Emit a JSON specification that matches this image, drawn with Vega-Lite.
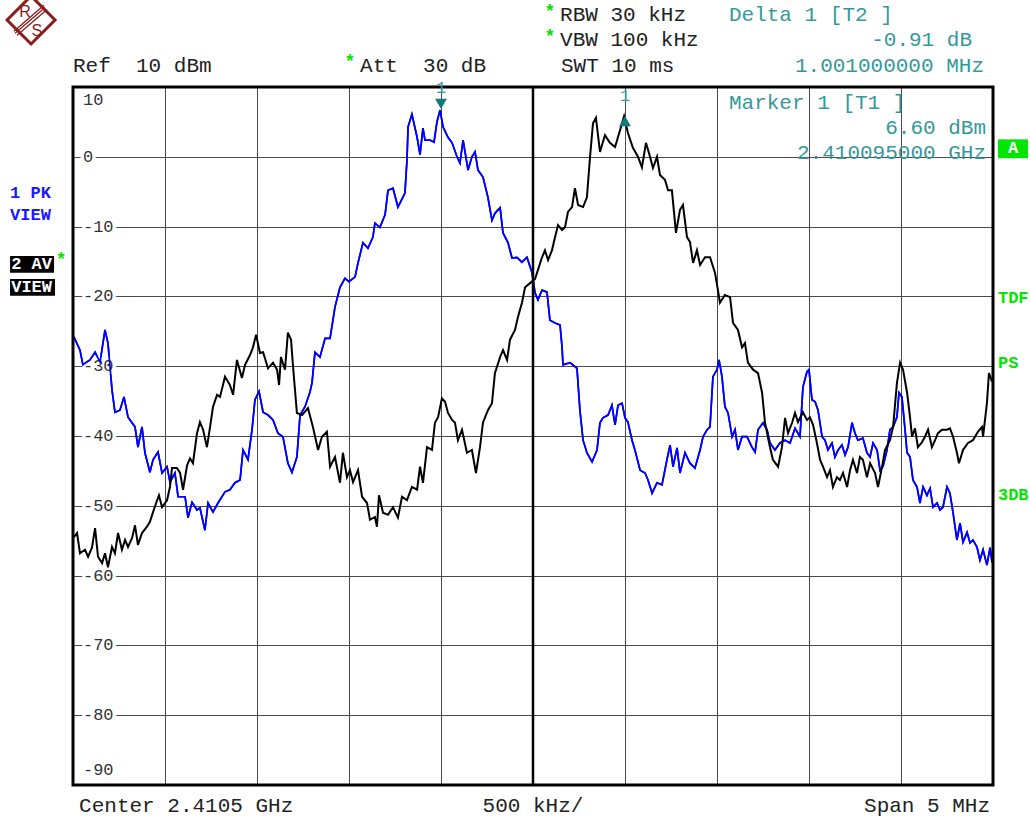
{
  "$schema": "https://vega.github.io/schema/vega-lite/v6.json",
  "width": 920,
  "height": 698,
  "autosize": "none",
  "padding": {"left": 73, "top": 87, "right": 37, "bottom": 33},
  "background": "white",
  "config": {
    "view": {"stroke": null},
    "font": "Liberation Mono",
    "axis": {"grid": true, "gridColor": "#4a4a4a", "gridWidth": 1, "gridOpacity": 1, "labels": false, "ticks": false, "domain": false}
  },
  "datasets": {
    "pk": [
      {"f":2408.005,"dBm":-25.8},{"f":2408.038,"dBm":-27.7},{"f":2408.054,"dBm":-29.8},{"f":2408.092,"dBm":-29.1},{"f":2408.120,"dBm":-28.0},{"f":2408.147,"dBm":-29.4},{"f":2408.174,"dBm":-24.8},{"f":2408.190,"dBm":-26.7},{"f":2408.212,"dBm":-33.4},{"f":2408.228,"dBm":-36.6},{"f":2408.255,"dBm":-36.3},{"f":2408.277,"dBm":-34.4},{"f":2408.299,"dBm":-37.3},{"f":2408.337,"dBm":-38.7},{"f":2408.353,"dBm":-41.6},{"f":2408.375,"dBm":-38.7},{"f":2408.391,"dBm":-42.4},{"f":2408.418,"dBm":-45.2},{"f":2408.435,"dBm":-43.4},{"f":2408.462,"dBm":-42.3},{"f":2408.484,"dBm":-45.3},{"f":2408.511,"dBm":-44.4},{"f":2408.527,"dBm":-46.6},{"f":2408.554,"dBm":-45.3},{"f":2408.571,"dBm":-48.7},{"f":2408.609,"dBm":-48.7},{"f":2408.625,"dBm":-51.7},{"f":2408.647,"dBm":-49.5},{"f":2408.674,"dBm":-50.6},{"f":2408.690,"dBm":-50.3},{"f":2408.717,"dBm":-53.5},{"f":2408.734,"dBm":-49.6},{"f":2408.761,"dBm":-50.9},{"f":2408.788,"dBm":-49.6},{"f":2408.826,"dBm":-48.0},{"f":2408.853,"dBm":-47.7},{"f":2408.880,"dBm":-46.7},{"f":2408.908,"dBm":-46.3},{"f":2408.924,"dBm":-42.0},{"f":2408.951,"dBm":-43.4},{"f":2408.973,"dBm":-39.1},{"f":2408.989,"dBm":-34.8},{"f":2409.011,"dBm":-33.6},{"f":2409.033,"dBm":-36.6},{"f":2409.060,"dBm":-37.0},{"f":2409.087,"dBm":-37.7},{"f":2409.114,"dBm":-39.6},{"f":2409.141,"dBm":-40.1},{"f":2409.168,"dBm":-43.9},{"f":2409.190,"dBm":-45.2},{"f":2409.217,"dBm":-43.0},{"f":2409.234,"dBm":-37.0},{"f":2409.261,"dBm":-35.8},{"f":2409.288,"dBm":-33.7},{"f":2409.299,"dBm":-32.4},{"f":2409.315,"dBm":-28.0},{"f":2409.342,"dBm":-28.7},{"f":2409.370,"dBm":-26.0},{"f":2409.397,"dBm":-26.0},{"f":2409.424,"dBm":-21.5},{"f":2409.451,"dBm":-18.7},{"f":2409.478,"dBm":-17.4},{"f":2409.500,"dBm":-17.9},{"f":2409.533,"dBm":-17.2},{"f":2409.549,"dBm":-15.2},{"f":2409.576,"dBm":-12.3},{"f":2409.603,"dBm":-13.1},{"f":2409.630,"dBm":-11.5},{"f":2409.641,"dBm":-9.5},{"f":2409.668,"dBm":-10.1},{"f":2409.696,"dBm":-8.3},{"f":2409.712,"dBm":-4.8},{"f":2409.739,"dBm":-4.5},{"f":2409.766,"dBm":-7.2},{"f":2409.804,"dBm":-5.2},{"f":2409.815,"dBm":-0.5},{"f":2409.821,"dBm":4.3},{"f":2409.842,"dBm":6.1},{"f":2409.870,"dBm":2.8},{"f":2409.886,"dBm":0.3},{"f":2409.902,"dBm":4.1},{"f":2409.913,"dBm":2.4},{"f":2409.940,"dBm":2.4},{"f":2409.962,"dBm":2.1},{"f":2409.978,"dBm":5.0},{"f":2409.995,"dBm":6.7},{"f":2410.011,"dBm":4.3},{"f":2410.038,"dBm":2.8},{"f":2410.060,"dBm":2.0},{"f":2410.087,"dBm":0.0},{"f":2410.103,"dBm":-0.9},{"f":2410.120,"dBm":2.4},{"f":2410.147,"dBm":-1.9},{"f":2410.168,"dBm":0.0},{"f":2410.185,"dBm":0.7},{"f":2410.201,"dBm":-1.9},{"f":2410.228,"dBm":-2.9},{"f":2410.255,"dBm":-5.8},{"f":2410.277,"dBm":-9.1},{"f":2410.293,"dBm":-8.1},{"f":2410.321,"dBm":-7.3},{"f":2410.337,"dBm":-10.9},{"f":2410.364,"dBm":-12.3},{"f":2410.386,"dBm":-14.5},{"f":2410.413,"dBm":-14.4},{"f":2410.440,"dBm":-15.1},{"f":2410.467,"dBm":-14.4},{"f":2410.495,"dBm":-16.6},{"f":2410.511,"dBm":-19.5},{"f":2410.527,"dBm":-20.5},{"f":2410.549,"dBm":-19.1},{"f":2410.576,"dBm":-19.4},{"f":2410.592,"dBm":-23.4},{"f":2410.620,"dBm":-23.8},{"f":2410.647,"dBm":-24.1},{"f":2410.658,"dBm":-27.3},{"f":2410.663,"dBm":-29.8},{"f":2410.701,"dBm":-29.5},{"f":2410.739,"dBm":-30.3},{"f":2410.755,"dBm":-36.3},{"f":2410.772,"dBm":-40.6},{"f":2410.793,"dBm":-42.4},{"f":2410.821,"dBm":-43.7},{"f":2410.848,"dBm":-42.0},{"f":2410.864,"dBm":-38.1},{"f":2410.880,"dBm":-37.4},{"f":2410.908,"dBm":-37.0},{"f":2410.929,"dBm":-35.6},{"f":2410.946,"dBm":-38.4},{"f":2410.962,"dBm":-35.6},{"f":2410.984,"dBm":-35.3},{"f":2411.000,"dBm":-37.4},{"f":2411.016,"dBm":-38.0},{"f":2411.038,"dBm":-40.6},{"f":2411.054,"dBm":-42.0},{"f":2411.082,"dBm":-44.9},{"f":2411.109,"dBm":-45.3},{"f":2411.125,"dBm":-46.3},{"f":2411.147,"dBm":-48.2},{"f":2411.174,"dBm":-46.7},{"f":2411.201,"dBm":-47.0},{"f":2411.228,"dBm":-43.4},{"f":2411.245,"dBm":-41.3},{"f":2411.261,"dBm":-44.4},{"f":2411.283,"dBm":-41.7},{"f":2411.299,"dBm":-45.3},{"f":2411.326,"dBm":-42.4},{"f":2411.353,"dBm":-43.9},{"f":2411.380,"dBm":-44.6},{"f":2411.408,"dBm":-42.0},{"f":2411.424,"dBm":-40.1},{"f":2411.446,"dBm":-39.1},{"f":2411.462,"dBm":-38.7},{"f":2411.478,"dBm":-31.5},{"f":2411.500,"dBm":-30.5},{"f":2411.511,"dBm":-29.1},{"f":2411.527,"dBm":-31.5},{"f":2411.543,"dBm":-35.8},{"f":2411.560,"dBm":-36.7},{"f":2411.582,"dBm":-40.1},{"f":2411.598,"dBm":-39.1},{"f":2411.614,"dBm":-42.0},{"f":2411.636,"dBm":-40.1},{"f":2411.663,"dBm":-40.1},{"f":2411.690,"dBm":-41.6},{"f":2411.707,"dBm":-42.3},{"f":2411.723,"dBm":-39.1},{"f":2411.750,"dBm":-38.1},{"f":2411.772,"dBm":-39.1},{"f":2411.788,"dBm":-41.0},{"f":2411.815,"dBm":-42.0},{"f":2411.842,"dBm":-41.0},{"f":2411.870,"dBm":-40.6},{"f":2411.897,"dBm":-41.0},{"f":2411.924,"dBm":-38.9},{"f":2411.951,"dBm":-40.1},{"f":2411.967,"dBm":-33.0},{"f":2411.989,"dBm":-30.8},{"f":2412.000,"dBm":-30.5},{"f":2412.016,"dBm":-34.8},{"f":2412.033,"dBm":-35.1},{"f":2412.049,"dBm":-36.3},{"f":2412.071,"dBm":-40.1},{"f":2412.087,"dBm":-40.6},{"f":2412.103,"dBm":-42.0},{"f":2412.125,"dBm":-41.0},{"f":2412.141,"dBm":-43.0},{"f":2412.158,"dBm":-42.0},{"f":2412.179,"dBm":-41.3},{"f":2412.196,"dBm":-42.7},{"f":2412.212,"dBm":-41.6},{"f":2412.234,"dBm":-38.1},{"f":2412.250,"dBm":-39.6},{"f":2412.266,"dBm":-40.6},{"f":2412.293,"dBm":-40.3},{"f":2412.315,"dBm":-42.4},{"f":2412.332,"dBm":-43.0},{"f":2412.348,"dBm":-41.0},{"f":2412.370,"dBm":-42.0},{"f":2412.386,"dBm":-44.9},{"f":2412.402,"dBm":-44.4},{"f":2412.424,"dBm":-42.0},{"f":2412.440,"dBm":-39.1},{"f":2412.457,"dBm":-38.7},{"f":2412.478,"dBm":-37.3},{"f":2412.489,"dBm":-33.8},{"f":2412.505,"dBm":-34.4},{"f":2412.522,"dBm":-39.1},{"f":2412.533,"dBm":-42.4},{"f":2412.549,"dBm":-43.0},{"f":2412.565,"dBm":-46.3},{"f":2412.587,"dBm":-47.3},{"f":2412.603,"dBm":-49.6},{"f":2412.620,"dBm":-47.3},{"f":2412.641,"dBm":-48.5},{"f":2412.658,"dBm":-47.5},{"f":2412.674,"dBm":-50.2},{"f":2412.696,"dBm":-49.6},{"f":2412.712,"dBm":-50.6},{"f":2412.728,"dBm":-50.2},{"f":2412.750,"dBm":-47.3},{"f":2412.766,"dBm":-48.2},{"f":2412.783,"dBm":-51.0},{"f":2412.804,"dBm":-54.9},{"f":2412.821,"dBm":-52.5},{"f":2412.837,"dBm":-55.2},{"f":2412.859,"dBm":-53.8},{"f":2412.875,"dBm":-55.3},{"f":2412.891,"dBm":-54.9},{"f":2412.913,"dBm":-55.9},{"f":2412.929,"dBm":-57.8},{"f":2412.946,"dBm":-56.3},{"f":2412.967,"dBm":-58.5},{"f":2412.984,"dBm":-56.0},{"f":2412.995,"dBm":-58.1}
    ],
    "av": [
      {"f":2408.005,"dBm":-54.5},{"f":2408.022,"dBm":-53.9},{"f":2408.038,"dBm":-56.8},{"f":2408.065,"dBm":-56.3},{"f":2408.082,"dBm":-57.3},{"f":2408.103,"dBm":-56.0},{"f":2408.120,"dBm":-53.2},{"f":2408.136,"dBm":-57.3},{"f":2408.158,"dBm":-58.2},{"f":2408.174,"dBm":-56.8},{"f":2408.190,"dBm":-58.8},{"f":2408.212,"dBm":-55.9},{"f":2408.228,"dBm":-56.8},{"f":2408.245,"dBm":-53.9},{"f":2408.266,"dBm":-56.3},{"f":2408.283,"dBm":-54.9},{"f":2408.299,"dBm":-55.9},{"f":2408.321,"dBm":-54.6},{"f":2408.337,"dBm":-52.8},{"f":2408.353,"dBm":-55.6},{"f":2408.375,"dBm":-53.9},{"f":2408.402,"dBm":-53.0},{"f":2408.418,"dBm":-52.3},{"f":2408.435,"dBm":-50.9},{"f":2408.457,"dBm":-49.2},{"f":2408.467,"dBm":-48.5},{"f":2408.484,"dBm":-50.2},{"f":2408.511,"dBm":-49.2},{"f":2408.527,"dBm":-47.3},{"f":2408.538,"dBm":-44.6},{"f":2408.565,"dBm":-44.6},{"f":2408.582,"dBm":-45.3},{"f":2408.598,"dBm":-47.7},{"f":2408.620,"dBm":-44.2},{"f":2408.636,"dBm":-43.2},{"f":2408.652,"dBm":-43.9},{"f":2408.674,"dBm":-39.6},{"f":2408.690,"dBm":-38.0},{"f":2408.707,"dBm":-39.1},{"f":2408.728,"dBm":-41.6},{"f":2408.745,"dBm":-38.7},{"f":2408.761,"dBm":-35.8},{"f":2408.783,"dBm":-34.1},{"f":2408.799,"dBm":-34.4},{"f":2408.826,"dBm":-31.5},{"f":2408.853,"dBm":-32.7},{"f":2408.870,"dBm":-34.1},{"f":2408.891,"dBm":-29.1},{"f":2408.918,"dBm":-31.7},{"f":2408.935,"dBm":-29.8},{"f":2408.962,"dBm":-28.4},{"f":2408.978,"dBm":-27.3},{"f":2408.995,"dBm":-25.5},{"f":2409.016,"dBm":-28.1},{"f":2409.033,"dBm":-28.0},{"f":2409.060,"dBm":-30.3},{"f":2409.087,"dBm":-29.5},{"f":2409.109,"dBm":-30.5},{"f":2409.120,"dBm":-32.7},{"f":2409.130,"dBm":-28.7},{"f":2409.152,"dBm":-30.5},{"f":2409.168,"dBm":-25.2},{"f":2409.185,"dBm":-26.2},{"f":2409.196,"dBm":-30.1},{"f":2409.217,"dBm":-36.7},{"f":2409.245,"dBm":-37.0},{"f":2409.277,"dBm":-36.0},{"f":2409.304,"dBm":-38.7},{"f":2409.332,"dBm":-42.0},{"f":2409.353,"dBm":-40.1},{"f":2409.380,"dBm":-39.4},{"f":2409.397,"dBm":-44.4},{"f":2409.424,"dBm":-43.0},{"f":2409.451,"dBm":-46.7},{"f":2409.467,"dBm":-42.4},{"f":2409.489,"dBm":-45.9},{"f":2409.505,"dBm":-44.9},{"f":2409.522,"dBm":-46.6},{"f":2409.549,"dBm":-44.9},{"f":2409.571,"dBm":-48.7},{"f":2409.598,"dBm":-49.6},{"f":2409.614,"dBm":-52.0},{"f":2409.641,"dBm":-51.6},{"f":2409.652,"dBm":-53.0},{"f":2409.663,"dBm":-48.5},{"f":2409.685,"dBm":-51.0},{"f":2409.712,"dBm":-51.3},{"f":2409.739,"dBm":-50.2},{"f":2409.766,"dBm":-51.7},{"f":2409.788,"dBm":-48.7},{"f":2409.815,"dBm":-49.2},{"f":2409.842,"dBm":-47.3},{"f":2409.870,"dBm":-47.7},{"f":2409.886,"dBm":-44.4},{"f":2409.902,"dBm":-46.7},{"f":2409.924,"dBm":-41.6},{"f":2409.951,"dBm":-42.0},{"f":2409.967,"dBm":-38.1},{"f":2409.984,"dBm":-37.3},{"f":2410.005,"dBm":-34.6},{"f":2410.022,"dBm":-35.1},{"f":2410.038,"dBm":-36.7},{"f":2410.060,"dBm":-37.7},{"f":2410.076,"dBm":-38.1},{"f":2410.092,"dBm":-40.6},{"f":2410.114,"dBm":-39.1},{"f":2410.141,"dBm":-42.4},{"f":2410.168,"dBm":-42.0},{"f":2410.190,"dBm":-45.3},{"f":2410.212,"dBm":-41.6},{"f":2410.228,"dBm":-38.1},{"f":2410.255,"dBm":-36.3},{"f":2410.277,"dBm":-35.3},{"f":2410.293,"dBm":-31.0},{"f":2410.321,"dBm":-28.7},{"f":2410.337,"dBm":-27.7},{"f":2410.359,"dBm":-29.1},{"f":2410.375,"dBm":-26.2},{"f":2410.402,"dBm":-24.8},{"f":2410.418,"dBm":-23.0},{"f":2410.440,"dBm":-20.9},{"f":2410.457,"dBm":-18.7},{"f":2410.484,"dBm":-18.1},{"f":2410.511,"dBm":-17.5},{"f":2410.527,"dBm":-16.2},{"f":2410.549,"dBm":-14.4},{"f":2410.565,"dBm":-13.4},{"f":2410.582,"dBm":-14.8},{"f":2410.603,"dBm":-13.4},{"f":2410.620,"dBm":-11.5},{"f":2410.636,"dBm":-9.8},{"f":2410.658,"dBm":-10.5},{"f":2410.674,"dBm":-10.1},{"f":2410.690,"dBm":-7.9},{"f":2410.712,"dBm":-7.2},{"f":2410.728,"dBm":-4.5},{"f":2410.745,"dBm":-6.9},{"f":2410.772,"dBm":-7.2},{"f":2410.793,"dBm":-5.8},{"f":2410.810,"dBm":0.0},{"f":2410.826,"dBm":4.8},{"f":2410.842,"dBm":5.6},{"f":2410.864,"dBm":0.7},{"f":2410.891,"dBm":3.1},{"f":2410.918,"dBm":2.0},{"f":2410.946,"dBm":1.4},{"f":2410.973,"dBm":3.8},{"f":2410.995,"dBm":5.8},{"f":2411.016,"dBm":3.4},{"f":2411.043,"dBm":1.3},{"f":2411.071,"dBm":0.0},{"f":2411.092,"dBm":-1.5},{"f":2411.114,"dBm":2.0},{"f":2411.136,"dBm":0.0},{"f":2411.152,"dBm":-1.6},{"f":2411.174,"dBm":0.0},{"f":2411.190,"dBm":-2.6},{"f":2411.217,"dBm":-3.3},{"f":2411.234,"dBm":-4.8},{"f":2411.255,"dBm":-4.8},{"f":2411.277,"dBm":-10.9},{"f":2411.299,"dBm":-7.6},{"f":2411.315,"dBm":-6.9},{"f":2411.337,"dBm":-11.5},{"f":2411.353,"dBm":-12.2},{"f":2411.370,"dBm":-15.2},{"f":2411.391,"dBm":-13.4},{"f":2411.408,"dBm":-15.5},{"f":2411.435,"dBm":-14.4},{"f":2411.462,"dBm":-14.4},{"f":2411.489,"dBm":-16.6},{"f":2411.505,"dBm":-19.1},{"f":2411.516,"dBm":-20.9},{"f":2411.543,"dBm":-19.8},{"f":2411.571,"dBm":-20.1},{"f":2411.587,"dBm":-23.8},{"f":2411.614,"dBm":-24.8},{"f":2411.636,"dBm":-27.3},{"f":2411.652,"dBm":-26.7},{"f":2411.668,"dBm":-29.5},{"f":2411.696,"dBm":-30.5},{"f":2411.723,"dBm":-31.0},{"f":2411.745,"dBm":-33.8},{"f":2411.761,"dBm":-38.1},{"f":2411.788,"dBm":-41.6},{"f":2411.804,"dBm":-43.4},{"f":2411.832,"dBm":-44.4},{"f":2411.853,"dBm":-41.6},{"f":2411.870,"dBm":-37.4},{"f":2411.886,"dBm":-39.6},{"f":2411.908,"dBm":-38.1},{"f":2411.924,"dBm":-36.7},{"f":2411.940,"dBm":-38.0},{"f":2411.967,"dBm":-36.6},{"f":2411.989,"dBm":-37.7},{"f":2412.005,"dBm":-37.3},{"f":2412.022,"dBm":-38.4},{"f":2412.043,"dBm":-41.0},{"f":2412.060,"dBm":-43.4},{"f":2412.076,"dBm":-44.4},{"f":2412.098,"dBm":-45.9},{"f":2412.114,"dBm":-44.9},{"f":2412.130,"dBm":-47.3},{"f":2412.152,"dBm":-45.9},{"f":2412.168,"dBm":-46.3},{"f":2412.185,"dBm":-45.3},{"f":2412.207,"dBm":-47.3},{"f":2412.223,"dBm":-44.9},{"f":2412.239,"dBm":-43.4},{"f":2412.261,"dBm":-45.3},{"f":2412.277,"dBm":-43.0},{"f":2412.293,"dBm":-43.4},{"f":2412.315,"dBm":-45.9},{"f":2412.332,"dBm":-43.9},{"f":2412.359,"dBm":-45.3},{"f":2412.375,"dBm":-47.3},{"f":2412.397,"dBm":-44.4},{"f":2412.413,"dBm":-42.0},{"f":2412.440,"dBm":-40.6},{"f":2412.457,"dBm":-38.7},{"f":2412.478,"dBm":-32.4},{"f":2412.495,"dBm":-29.5},{"f":2412.511,"dBm":-30.5},{"f":2412.533,"dBm":-33.8},{"f":2412.549,"dBm":-37.3},{"f":2412.560,"dBm":-40.1},{"f":2412.576,"dBm":-38.9},{"f":2412.592,"dBm":-41.6},{"f":2412.614,"dBm":-40.9},{"f":2412.630,"dBm":-40.1},{"f":2412.647,"dBm":-39.1},{"f":2412.668,"dBm":-41.6},{"f":2412.685,"dBm":-40.6},{"f":2412.701,"dBm":-39.6},{"f":2412.723,"dBm":-39.1},{"f":2412.750,"dBm":-39.1},{"f":2412.766,"dBm":-38.9},{"f":2412.783,"dBm":-40.1},{"f":2412.804,"dBm":-42.4},{"f":2412.815,"dBm":-43.9},{"f":2412.837,"dBm":-42.0},{"f":2412.864,"dBm":-41.0},{"f":2412.891,"dBm":-40.6},{"f":2412.918,"dBm":-39.4},{"f":2412.940,"dBm":-38.7},{"f":2412.946,"dBm":-40.1},{"f":2412.967,"dBm":-35.3},{"f":2412.978,"dBm":-31.0},{"f":2412.995,"dBm":-32.2}
    ],
    "ylab": [
      {"v": 0, "label": "0"}, {"v": -10, "label": "-10"}, {"v": -20, "label": "-20"}, {"v": -30, "label": "-30"}, {"v": -40, "label": "-40"},
      {"v": -50, "label": "-50"}, {"v": -60, "label": "-60"}, {"v": -70, "label": "-70"}, {"v": -80, "label": "-80"}
    ]
  },
  "layer": [
    {
      "data": {"name": "pk"},
      "mark": {"type": "line", "color": "#0000ff", "strokeWidth": 1.7},
      "encoding": {
        "x": {"field": "f", "type": "quantitative", "scale": {"domain": [2408, 2413], "nice": false, "zero": false},
              "axis": {"title": null, "values": [2408.5, 2409, 2409.5, 2410, 2410.5, 2411, 2411.5, 2412, 2412.5]}},
        "y": {"field": "dBm", "type": "quantitative", "scale": {"domain": [-90, 10], "nice": false, "zero": false},
              "axis": {"title": null, "values": [0, -10, -20, -30, -40, -50, -60, -70, -80]}}
      }
    },
    {
      "data": {"name": "ylab"},
      "mark": {"type": "text", "align": "left", "baseline": "middle", "font": "Liberation Mono", "fontSize": 17, "fill": "white", "stroke": "white", "strokeWidth": 7},
      "encoding": {"x": {"datum": 2408.054}, "y": {"field": "v", "type": "quantitative"}, "text": {"field": "label"}}
    },
    {
      "data": {"name": "ylab"},
      "mark": {"type": "text", "align": "left", "baseline": "middle", "font": "Liberation Mono", "fontSize": 17, "color": "#333333"},
      "encoding": {"x": {"datum": 2408.054}, "y": {"field": "v", "type": "quantitative"}, "text": {"field": "label"}}
    },
    {
      "data": {"values": [{}]},
      "mark": {"type": "text", "align": "left", "baseline": "middle", "font": "Liberation Mono", "fontSize": 17, "color": "#333333"},
      "encoding": {"x": {"datum": 2408.054}, "y": {"datum": 8.1}, "text": {"value": "10"}}
    },
    {
      "data": {"values": [{}]},
      "mark": {"type": "text", "align": "left", "baseline": "middle", "font": "Liberation Mono", "fontSize": 17, "color": "#333333"},
      "encoding": {"x": {"datum": 2408.054}, "y": {"datum": -87.9}, "text": {"value": "-90"}}
    },
    {
      "data": {"name": "pk"},
      "mark": {"type": "line", "color": "#0000ff", "strokeWidth": 1.7},
      "encoding": {
        "x": {"field": "f", "type": "quantitative", "axis": {"title": null}},
        "y": {"field": "dBm", "type": "quantitative", "axis": {"title": null}}
      }
    },
    {
      "data": {"values": [{}]},
      "mark": {"type": "rule", "color": "black", "strokeWidth": 2.5},
      "encoding": {"x": {"datum": 2410.5}}
    },
    {
      "data": {"name": "av"},
      "mark": {"type": "line", "color": "#000000", "strokeWidth": 2},
      "encoding": {
        "x": {"field": "f", "type": "quantitative", "axis": {"title": null}},
        "y": {"field": "dBm", "type": "quantitative", "axis": {"title": null}}
      }
    },
    {
      "data": {"values": [{}]},
      "mark": {"type": "rect", "fillOpacity": 0, "stroke": "black", "strokeWidth": 3},
      "encoding": {"x": {"datum": 2408}, "x2": {"datum": 2413}, "y": {"datum": -90}, "y2": {"datum": 10}}
    },
    {
      "data": {"values": [{}]},
      "mark": {"type": "point", "shape": "triangle-down", "filled": true, "size": 140, "color": "#117a7a", "opacity": 1},
      "encoding": {"x": {"datum": 2410.0}, "y": {"datum": 7.6}}
    },
    {
      "data": {"values": [{}]},
      "mark": {"type": "point", "shape": "triangle-up", "filled": true, "size": 140, "color": "#117a7a", "opacity": 1},
      "encoding": {"x": {"datum": 2411.0}, "y": {"datum": 5.1}}
    },
    {
      "data": {"values": [{}]},
      "mark": {"type": "text", "align": "center", "baseline": "middle", "font": "Liberation Mono", "fontSize": 17, "color": "#339999"},
      "encoding": {"x": {"datum": 2410.0}, "y": {"datum": 9.9}, "text": {"value": "1"}}
    },
    {
      "data": {"values": [{}]},
      "mark": {"type": "text", "align": "center", "baseline": "middle", "font": "Liberation Mono", "fontSize": 17, "color": "#339999"},
      "encoding": {"x": {"datum": 2411.0}, "y": {"datum": 8.7}, "text": {"value": "1"}}
    },
    {
      "data": {"values": [{}]},
      "mark": {"type": "text", "align": "left", "baseline": "middle", "font": "Liberation Mono", "fontSize": 21, "color": "#222222"},
      "encoding": {"x": {"datum": 2408.0}, "y": {"datum": 13.0}, "text": {"value": "Ref\u00a0\u00a010 dBm"}}
    },
    {
      "data": {"values": [{}]},
      "mark": {"type": "text", "align": "left", "baseline": "middle", "font": "Liberation Mono", "fontSize": 21, "color": "#222222"},
      "encoding": {"x": {"datum": 2409.56}, "y": {"datum": 13.0}, "text": {"value": "Att\u00a0\u00a030 dB"}}
    },
    {
      "data": {"values": [{}]},
      "mark": {"type": "text", "align": "left", "baseline": "middle", "font": "Liberation Mono", "fontSize": 21, "color": "#222222"},
      "encoding": {"x": {"datum": 2410.647}, "y": {"datum": 20.3}, "text": {"value": "RBW 30 kHz"}}
    },
    {
      "data": {"values": [{}]},
      "mark": {"type": "text", "align": "left", "baseline": "middle", "font": "Liberation Mono", "fontSize": 21, "color": "#222222"},
      "encoding": {"x": {"datum": 2410.647}, "y": {"datum": 16.7}, "text": {"value": "VBW 100 kHz"}}
    },
    {
      "data": {"values": [{}]},
      "mark": {"type": "text", "align": "left", "baseline": "middle", "font": "Liberation Mono", "fontSize": 21, "color": "#222222"},
      "encoding": {"x": {"datum": 2410.652}, "y": {"datum": 13.0}, "text": {"value": "SWT 10 ms"}}
    },
    {
      "data": {"values": [{}]},
      "mark": {"type": "text", "align": "center", "baseline": "middle", "font": "Liberation Mono", "fontSize": 18, "fontWeight": "bold", "color": "#00e600"},
      "encoding": {"x": {"datum": 2409.505}, "y": {"datum": 13.6}, "text": {"value": "*"}}
    },
    {
      "data": {"values": [{}]},
      "mark": {"type": "text", "align": "center", "baseline": "middle", "font": "Liberation Mono", "fontSize": 18, "fontWeight": "bold", "color": "#00e600"},
      "encoding": {"x": {"datum": 2410.592}, "y": {"datum": 20.8}, "text": {"value": "*"}}
    },
    {
      "data": {"values": [{}]},
      "mark": {"type": "text", "align": "center", "baseline": "middle", "font": "Liberation Mono", "fontSize": 18, "fontWeight": "bold", "color": "#00e600"},
      "encoding": {"x": {"datum": 2410.592}, "y": {"datum": 17.2}, "text": {"value": "*"}}
    },
    {
      "data": {"values": [{}]},
      "mark": {"type": "text", "align": "left", "baseline": "middle", "font": "Liberation Mono", "fontSize": 21, "color": "#339999"},
      "encoding": {"x": {"datum": 2411.565}, "y": {"datum": 20.3}, "text": {"value": "Delta 1 [T2 ]"}}
    },
    {
      "data": {"values": [{}]},
      "mark": {"type": "text", "align": "right", "baseline": "middle", "font": "Liberation Mono", "fontSize": 21, "color": "#339999"},
      "encoding": {"x": {"datum": 2412.886}, "y": {"datum": 16.7}, "text": {"value": "-0.91 dB"}}
    },
    {
      "data": {"values": [{}]},
      "mark": {"type": "text", "align": "right", "baseline": "middle", "font": "Liberation Mono", "fontSize": 21, "color": "#339999"},
      "encoding": {"x": {"datum": 2412.951}, "y": {"datum": 13.0}, "text": {"value": "1.001000000 MHz"}}
    },
    {
      "data": {"values": [{}]},
      "mark": {"type": "text", "align": "left", "baseline": "middle", "font": "Liberation Mono", "fontSize": 21, "color": "#339999"},
      "encoding": {"x": {"datum": 2411.565}, "y": {"datum": 7.7}, "text": {"value": "Marker 1 [T1 ]"}}
    },
    {
      "data": {"values": [{}]},
      "mark": {"type": "text", "align": "right", "baseline": "middle", "font": "Liberation Mono", "fontSize": 21, "color": "#339999"},
      "encoding": {"x": {"datum": 2412.962}, "y": {"datum": 4.1}, "text": {"value": "6.60 dBm"}}
    },
    {
      "data": {"values": [{}]},
      "mark": {"type": "text", "align": "right", "baseline": "middle", "font": "Liberation Mono", "fontSize": 21, "color": "#339999"},
      "encoding": {"x": {"datum": 2412.962}, "y": {"datum": 0.5}, "text": {"value": "2.410095000 GHz"}}
    },
    {
      "data": {"values": [{}]},
      "mark": {"type": "text", "align": "left", "baseline": "middle", "font": "Liberation Mono", "fontSize": 21, "color": "#222222"},
      "encoding": {"x": {"datum": 2408.033}, "y": {"datum": -93.0}, "text": {"value": "Center 2.4105 GHz"}}
    },
    {
      "data": {"values": [{}]},
      "mark": {"type": "text", "align": "center", "baseline": "middle", "font": "Liberation Mono", "fontSize": 21, "color": "#222222"},
      "encoding": {"x": {"datum": 2410.5}, "y": {"datum": -93.0}, "text": {"value": "500 kHz/"}}
    },
    {
      "data": {"values": [{}]},
      "mark": {"type": "text", "align": "right", "baseline": "middle", "font": "Liberation Mono", "fontSize": 21, "color": "#222222"},
      "encoding": {"x": {"datum": 2412.984}, "y": {"datum": -93.0}, "text": {"value": "Span 5 MHz"}}
    },
    {
      "data": {"values": [{}]},
      "mark": {"type": "text", "align": "left", "baseline": "middle", "font": "Liberation Mono", "fontSize": 17, "fontWeight": "bold", "color": "#1a1aff"},
      "encoding": {"x": {"datum": 2407.658}, "y": {"datum": -5.2}, "text": {"value": "1 PK"}}
    },
    {
      "data": {"values": [{}]},
      "mark": {"type": "text", "align": "left", "baseline": "middle", "font": "Liberation Mono", "fontSize": 17, "fontWeight": "bold", "color": "#1a1aff"},
      "encoding": {"x": {"datum": 2407.658}, "y": {"datum": -8.3}, "text": {"value": "VIEW"}}
    },
    {
      "data": {"values": [{}]},
      "mark": {"type": "rect", "color": "black"},
      "encoding": {"x": {"datum": 2407.658}, "x2": {"datum": 2407.897}, "y": {"datum": -14.2}, "y2": {"datum": -16.6}}
    },
    {
      "data": {"values": [{}]},
      "mark": {"type": "rect", "color": "black"},
      "encoding": {"x": {"datum": 2407.658}, "x2": {"datum": 2407.902}, "y": {"datum": -17.5}, "y2": {"datum": -19.9}}
    },
    {
      "data": {"values": [{}]},
      "mark": {"type": "text", "align": "left", "baseline": "middle", "font": "Liberation Mono", "fontSize": 17, "fontWeight": "bold", "color": "white"},
      "encoding": {"x": {"datum": 2407.664}, "y": {"datum": -15.4}, "text": {"value": "2 AV"}}
    },
    {
      "data": {"values": [{}]},
      "mark": {"type": "text", "align": "left", "baseline": "middle", "font": "Liberation Mono", "fontSize": 17, "fontWeight": "bold", "color": "white"},
      "encoding": {"x": {"datum": 2407.664}, "y": {"datum": -18.7}, "text": {"value": "VIEW"}}
    },
    {
      "data": {"values": [{}]},
      "mark": {"type": "text", "align": "center", "baseline": "middle", "font": "Liberation Mono", "fontSize": 18, "fontWeight": "bold", "color": "#00e600"},
      "encoding": {"x": {"datum": 2407.935}, "y": {"datum": -14.8}, "text": {"value": "*"}}
    },
    {
      "data": {"values": [{}]},
      "mark": {"type": "rect", "color": "#00e600"},
      "encoding": {"x": {"datum": 2413.027}, "x2": {"datum": 2413.19}, "y": {"datum": 2.5}, "y2": {"datum": -0.2}}
    },
    {
      "data": {"values": [{}]},
      "mark": {"type": "text", "align": "center", "baseline": "middle", "font": "Liberation Mono", "fontSize": 17, "fontWeight": "bold", "color": "white"},
      "encoding": {"x": {"datum": 2413.109}, "y": {"datum": 1.2}, "text": {"value": "A"}}
    },
    {
      "data": {"values": [{}]},
      "mark": {"type": "text", "align": "left", "baseline": "middle", "font": "Liberation Mono", "fontSize": 17, "fontWeight": "bold", "color": "#00e600"},
      "encoding": {"x": {"datum": 2413.027}, "y": {"datum": -20.2}, "text": {"value": "TDF"}}
    },
    {
      "data": {"values": [{}]},
      "mark": {"type": "text", "align": "left", "baseline": "middle", "font": "Liberation Mono", "fontSize": 17, "fontWeight": "bold", "color": "#00e600"},
      "encoding": {"x": {"datum": 2413.027}, "y": {"datum": -29.5}, "text": {"value": "PS"}}
    },
    {
      "data": {"values": [{}]},
      "mark": {"type": "text", "align": "left", "baseline": "middle", "font": "Liberation Mono", "fontSize": 17, "fontWeight": "bold", "color": "#00e600"},
      "encoding": {"x": {"datum": 2413.027}, "y": {"datum": -48.5}, "text": {"value": "3DB"}}
    },
    {
      "data": {"values": [{}]},
      "mark": {"type": "point", "shape": "diamond", "filled": false, "size": 2304, "stroke": "#8b1c1c", "strokeWidth": 3, "opacity": 1},
      "encoding": {"x": {"datum": 2407.772}, "y": {"datum": 19.6}}
    },
    {
      "data": {"values": [{}]},
      "mark": {"type": "rule", "color": "#8b1c1c", "strokeWidth": 1.3},
      "encoding": {"x": {"datum": 2407.679}, "x2": {"datum": 2407.842}, "y": {"datum": 18.0}, "y2": {"datum": 21.7}}
    },
    {
      "data": {"values": [{}]},
      "mark": {"type": "rule", "color": "#8b1c1c", "strokeWidth": 1.3},
      "encoding": {"x": {"datum": 2407.685}, "x2": {"datum": 2407.848}, "y": {"datum": 17.7}, "y2": {"datum": 21.4}}
    },
    {
      "data": {"values": [{}]},
      "mark": {"type": "rule", "color": "#8b1c1c", "strokeWidth": 1.3},
      "encoding": {"x": {"datum": 2407.696}, "x2": {"datum": 2407.859}, "y": {"datum": 17.4}, "y2": {"datum": 21.1}}
    },
    {
      "data": {"values": [{}]},
      "mark": {"type": "text", "align": "center", "baseline": "middle", "font": "Liberation Sans", "fontSize": 16, "color": "#8b1c1c"},
      "encoding": {"x": {"datum": 2407.739}, "y": {"datum": 20.8}, "text": {"value": "R"}}
    },
    {
      "data": {"values": [{}]},
      "mark": {"type": "text", "align": "center", "baseline": "middle", "font": "Liberation Sans", "fontSize": 16, "color": "#8b1c1c"},
      "encoding": {"x": {"datum": 2407.804}, "y": {"datum": 18.0}, "text": {"value": "S"}}
    }
  ]
}
